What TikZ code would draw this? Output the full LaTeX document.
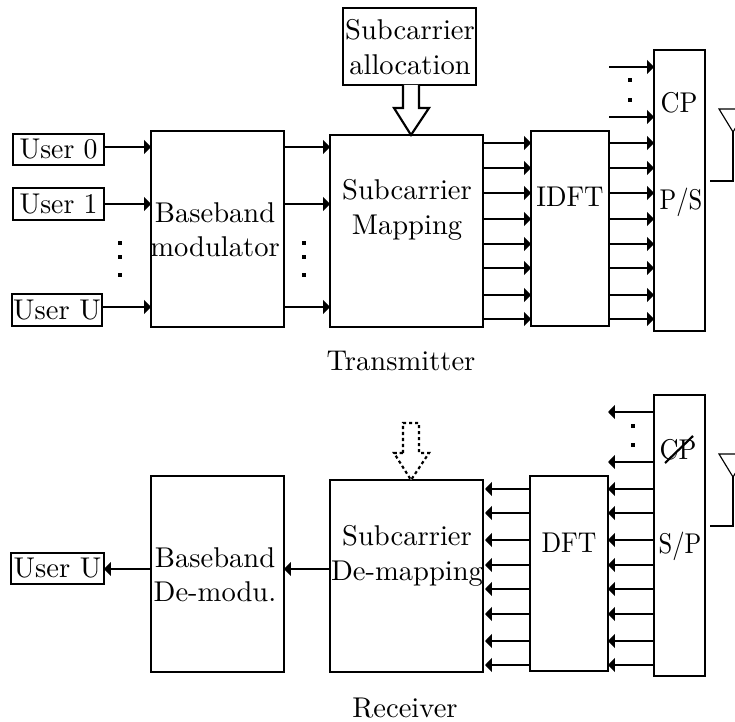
\documentclass[tikz,border=0pt]{standalone}
\usepackage{tikz}
\usetikzlibrary{positioning,arrows.meta}

\begin{document}
\begin{tikzpicture}[x=0.35pt,y=-0.35pt]
  \tikzset{BlockStyle/.style = {
    shape         = rectangle,
    draw          = black,
    fill          = white,
    line width    = 0.75pt,
    inner sep     = 0pt,
    outer sep     = 0pt
    }
  }
  \tikzset{TextStyle/.style = {
    shape         = rectangle,
    align         = center,
    text          = black,
    inner sep     = 0pt,
    outer sep     = 0pt
    }
  }
  \tikzset{EdgeStyle/.style = {
    draw          = black,
    line width    = 0.75pt,
    -{Triangle[length=2.4pt,width=4.8pt]}
    }
  }
  \tikzset{HollowStyle/.style = {
    draw          = black,
    fill          = white,
    line width    = 0.75pt
    }
  }
  \tikzset{DotStyle/.style = {
    shape         = rectangle,
    fill          = black,
    inner sep     = 0pt,
    outer sep     = 0pt,
    minimum size  = 1.3pt
    }
  }
  \clip (0,0) rectangle (735,721);

  % transmitter
  \node[BlockStyle, minimum width=91*0.35pt, minimum height=31*0.35pt](UserA) at (58.5,149.5) {\scalebox{.97}[1]{User 0}};
  \node[BlockStyle, minimum width=91*0.35pt, minimum height=32*0.35pt](UserB) at (58.5,204) {\scalebox{.97}[1]{User 1}};
  \node[BlockStyle, minimum width=90*0.35pt, minimum height=32*0.35pt](UserU) at (57,310) {User U};
  \node[BlockStyle, minimum width=133*0.35pt, minimum height=196*0.35pt](Mod) at (217.5,229) {};
  \node[BlockStyle, minimum width=153*0.35pt, minimum height=192*0.35pt](Map) at (406.5,231) {};
  \node[BlockStyle, minimum width=133*0.35pt, minimum height=77*0.35pt](Alloc) at (409.5,46.5) {};
  \node[BlockStyle, minimum width=78*0.35pt, minimum height=195*0.35pt](IDFT) at (570,228.5) {};
  \node[BlockStyle, minimum width=51*0.35pt, minimum height=281*0.35pt](PS) at (679.5,190.5) {};
  %
  \node[TextStyle](ModText) at (215,230) {Baseband\\modulator};
  \node[TextStyle](MapText) at (407,210) {Subcarrier\\Mapping};
  \node[TextStyle](AllocText) at (410,47) {Subcarrier\\allocation};
  \node[TextStyle](IDFTText) at (570,197) {\scalebox{.94}[1]{IDFT}};
  \node[TextStyle](CPText) at (679,103) {\scalebox{.92}[1]{CP}};
  \node[TextStyle](PSText) at (681,202) {\scalebox{.86}[1]{P/S}};
  \node[TextStyle](TxText) at (401,361) {Transmitter};

  % receiver
  \node[BlockStyle, minimum width=93*0.35pt, minimum height=31*0.35pt](UserR) at (57.5,568.5) {User U};
  \node[BlockStyle, minimum width=133*0.35pt, minimum height=196*0.35pt](Demod) at (217.5,574) {};
  \node[BlockStyle, minimum width=153*0.35pt, minimum height=192*0.35pt](Demap) at (406.5,576) {};
  \node[BlockStyle, minimum width=78*0.35pt, minimum height=195*0.35pt](DFT) at (569,573.5) {};
  \node[BlockStyle, minimum width=51*0.35pt, minimum height=281*0.35pt](SP) at (679.5,535.5) {};
  %
  \node[TextStyle](DemodText) at (215,575) {Baseband\\De-modu.};
  \node[TextStyle](DemapText) at (407,556) {Subcarrier\\De-mapping};
  \node[TextStyle](DFTText) at (569,543) {\scalebox{.9}[1]{DFT}};
  \node[TextStyle](CPrText) at (678,450) {\scalebox{.92}[1]{CP}};
  \node[TextStyle](SPText) at (680,546) {\scalebox{.86}[1]{S/P}};
  \node[TextStyle](RxText) at (405,708) {Receiver};

  % user and mapping arrows
  \foreach \y/\from in {147/UserA,204/UserB,307/UserU}{
    \draw[EdgeStyle](\from.east |- 0,\y) to (Mod.west |- 0,\y);
    \draw[EdgeStyle](Mod.east |- 0,\y) to (Map.west |- 0,\y);
  }
  \draw[EdgeStyle](Demap.west |- 0,569) to (Demod.east |- 0,569);
  \draw[EdgeStyle](Demod.west |- 0,569) to (UserR.east |- 0,569);

  % parallel arrows
  \foreach \y in {143,168,193,219,244,268,295,319}{
    \draw[EdgeStyle](Map.east |- 0,\y) to (IDFT.west |- 0,\y);
    \draw[EdgeStyle](IDFT.east |- 0,\y) to (PS.west |- 0,\y);
  }
  \foreach \y in {489,513,540,565,589,614,641,665}{
    \draw[EdgeStyle](DFT.west |- 0,\y) to ([xshift=0.7pt]Demap.east |- 0,\y);
    \draw[EdgeStyle](SP.west |- 0,\y) to (DFT.east |- 0,\y);
  }
  \foreach \y in {67,117}{
    \draw[EdgeStyle](IDFT.east |- 0,\y) to (PS.west |- 0,\y);
  }
  \foreach \y in {412,462}{
    \draw[EdgeStyle](SP.west |- 0,\y) to (DFT.east |- 0,\y);
  }

  % dots
  \foreach \n/\x/\y in {a/120/243,b/120/257,c/120/275,d/304/243,e/304/257,f/304/275,g/630/80,h/630/100,i/633/426,j/633/445}{
    \node[DotStyle](dot\n) at (\x,\y) {};
  }

  % hollow arrows
  \draw[HollowStyle](403,85) -- (403,108) -- (394,108) -- (411,135) -- (429,108) -- (419,108) -- (419,85);
  \draw[HollowStyle, dash pattern=on 1.1pt off 1pt](403,453) -- (403,423) -- (419,423) -- (419,453) -- (429,453) -- (411,480) -- (394,453) -- cycle;

  % struck through CP
  \coordinate (StrikeA) at (665,463);
  \coordinate (StrikeB) at (693,436);
  \draw[line width=0.75pt](StrikeA) -- (StrikeB);

  % antennas
  \foreach \y/\name in {0/Tx,345/Rx}{
    \coordinate (Apex\name) at (733,132+\y);
    \coordinate (Foot\name) at (710,181+\y);
    \draw[line width=0.4pt](Apex\name) -- (719,109+\y) -- (747,109+\y) -- cycle;
    \draw[line width=0.65pt](Apex\name) |- (Foot\name);
  }
\end{tikzpicture}
\end{document}
